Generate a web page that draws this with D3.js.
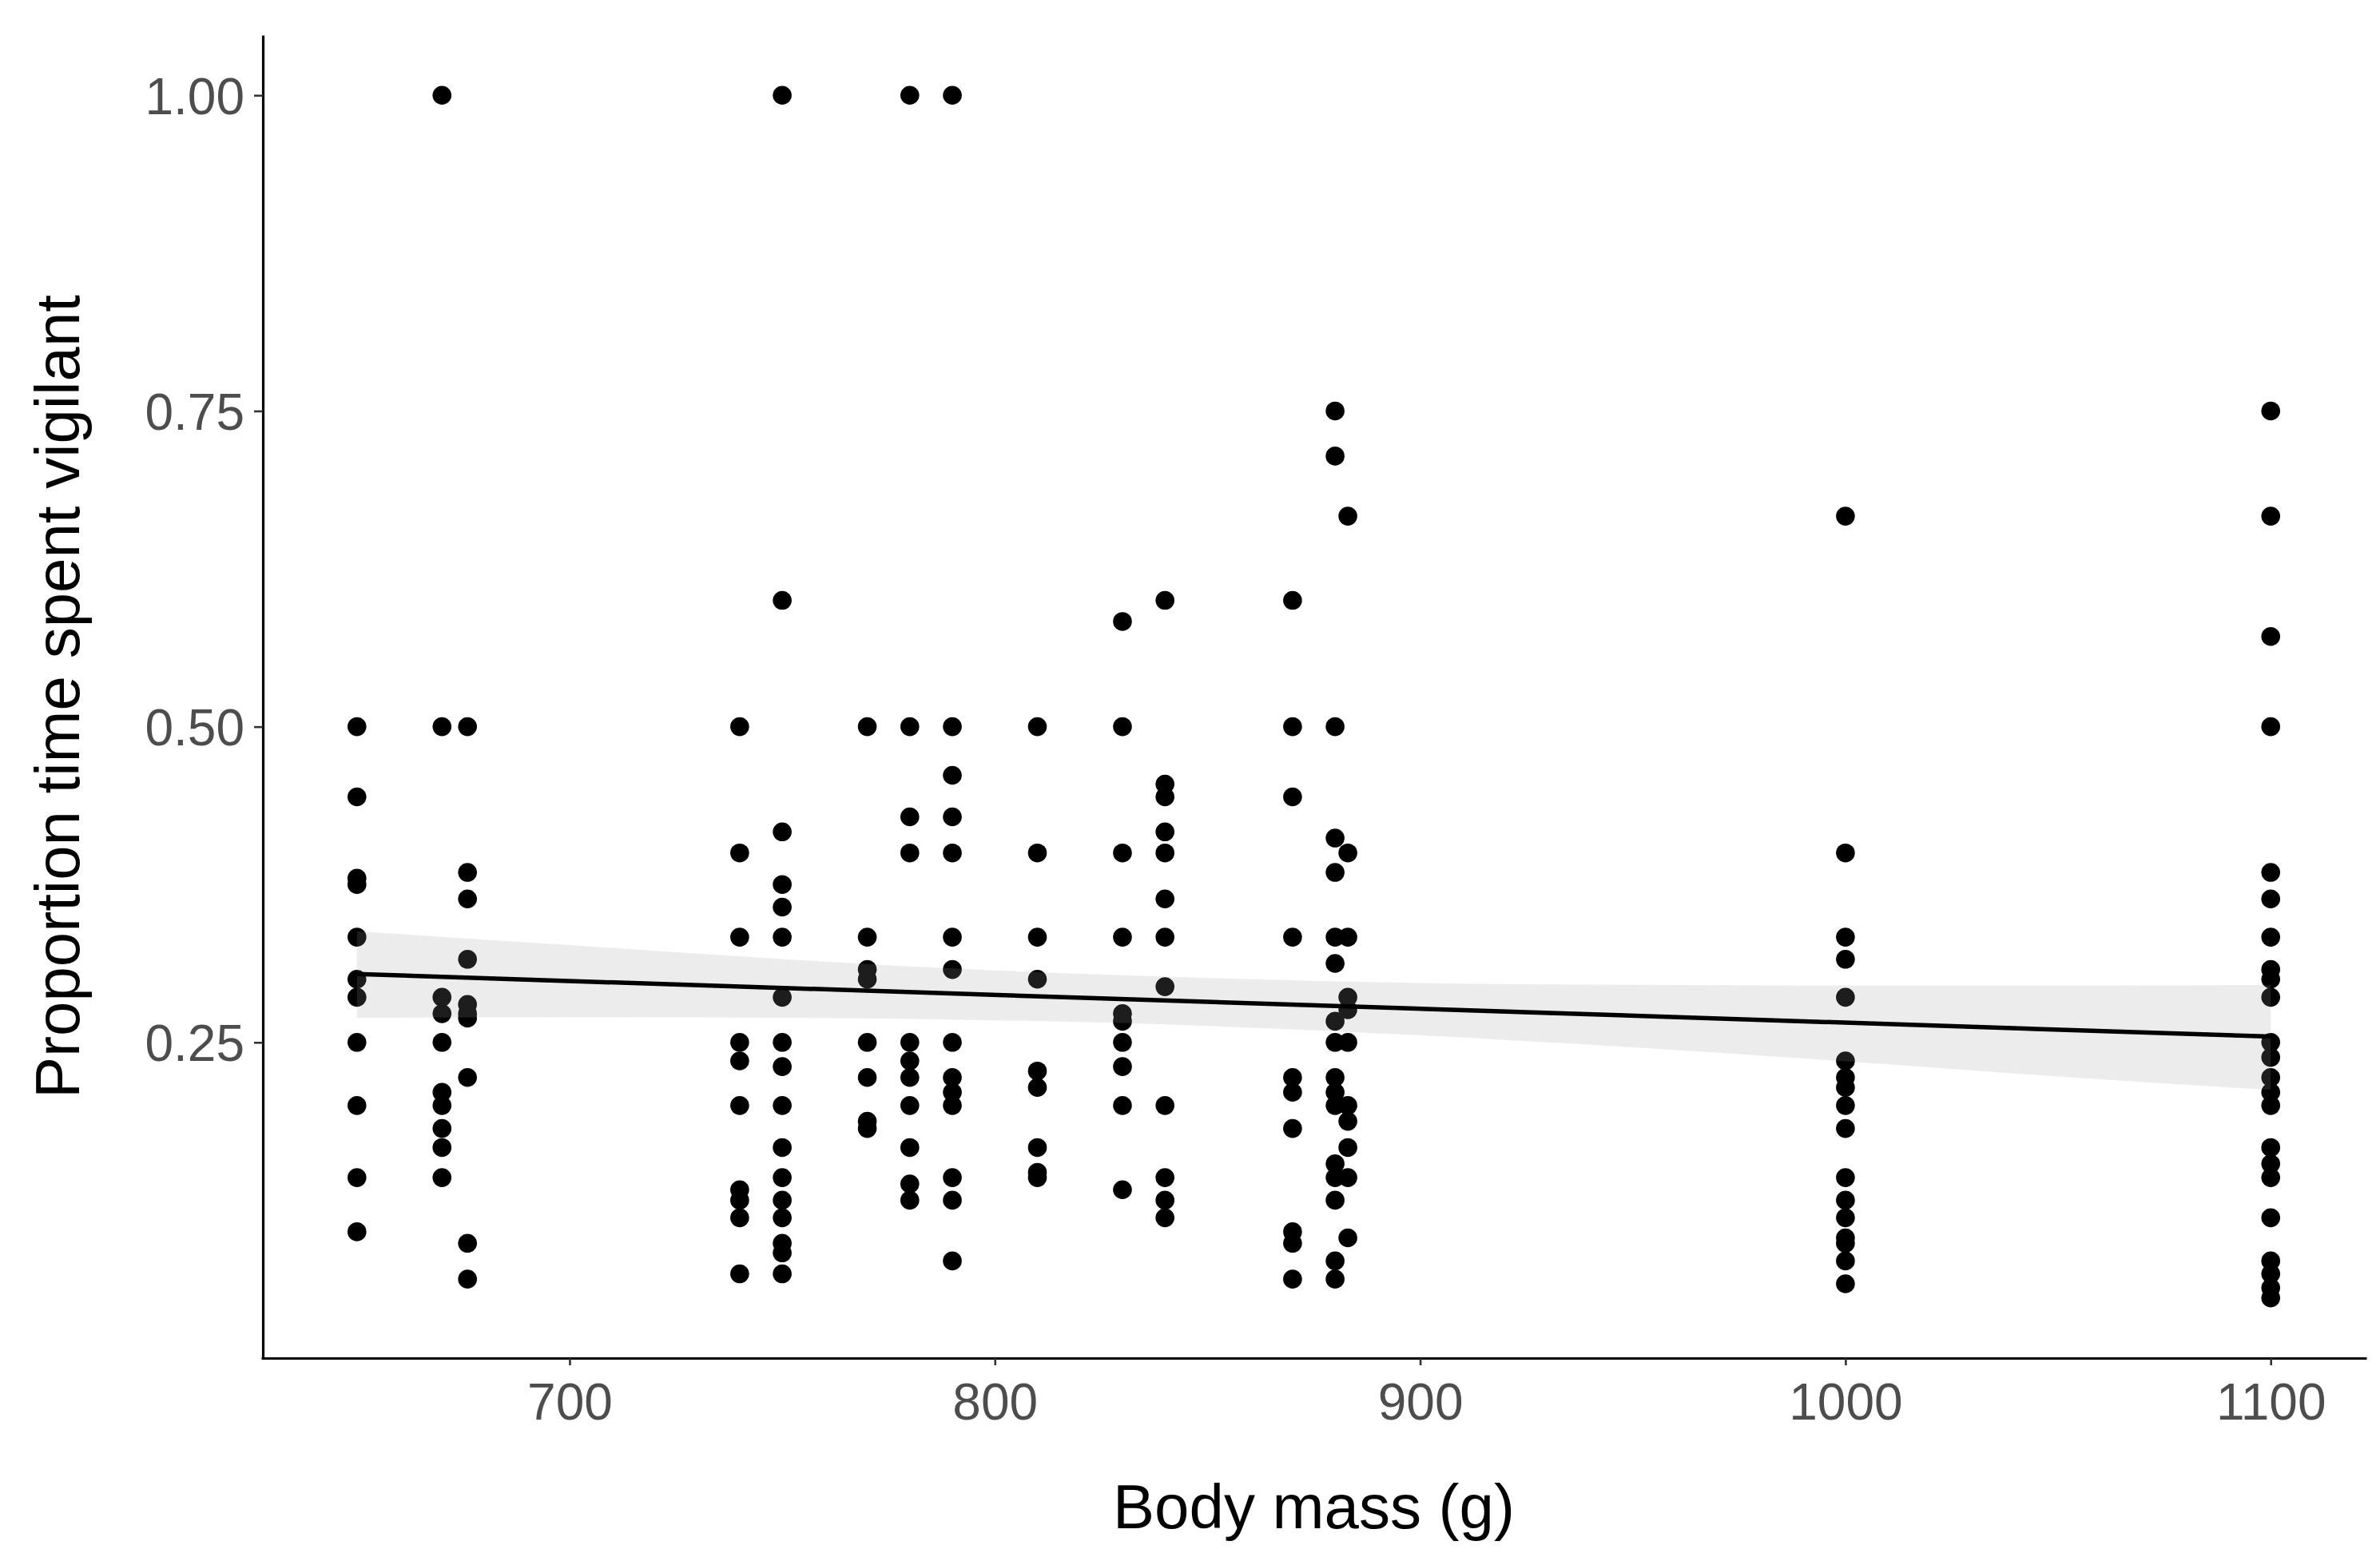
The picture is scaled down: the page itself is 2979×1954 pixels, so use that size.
<!DOCTYPE html>
<html>
<head>
<meta charset="utf-8">
<script src="https://cdn.jsdelivr.net/npm/d3@7"></script>
<style>
  html, body { margin: 0; padding: 0; background: #ffffff; }
  svg { display: block; }
</style>
</head>
<body>
<svg id="chart" width="2979" height="1954"></svg>
<script>
// ---- Data ----
const bodyMass = [650, 670, 676, 740, 750, 770, 780, 790, 810, 830, 840, 870, 880, 883, 1000, 1100];

const vig650  = [0.5, 0.4444, 0.38, 0.375, 0.3333, 0.3, 0.2857, 0.25, 0.2, 0.1429, 0.1];
const vig670  = [1.0, 0.5, 0.2857, 0.2727, 0.25, 0.2105, 0.2, 0.1818, 0.1667, 0.1429];
const vig676  = [0.5, 0.3846, 0.3636, 0.3158, 0.28, 0.2727, 0.2692, 0.2222, 0.0909, 0.0625];
const vig740  = [0.5, 0.4, 0.3333, 0.25, 0.2353, 0.2, 0.1333, 0.125, 0.1111, 0.0667];
const vig750  = [1.0, 0.6, 0.4167, 0.375, 0.3571, 0.3333, 0.2857, 0.25, 0.2308, 0.2, 0.1667, 0.1429, 0.125, 0.1111, 0.0909, 0.0833, 0.0667];
const vig770  = [0.5, 0.3333, 0.3077, 0.3, 0.25, 0.2222, 0.1875, 0.1818];
const vig780  = [1.0, 0.5, 0.4286, 0.4, 0.25, 0.2353, 0.2222, 0.2, 0.1667, 0.1379, 0.125];
const vig790  = [1.0, 0.5, 0.4615, 0.4286, 0.4, 0.3333, 0.3077, 0.25, 0.2222, 0.2105, 0.2, 0.1429, 0.125, 0.0769];
const vig810  = [0.5, 0.4, 0.3333, 0.3, 0.2273, 0.2143, 0.1667, 0.1471, 0.1429];
const vig830  = [0.5833, 0.5, 0.4, 0.3333, 0.2727, 0.2667, 0.25, 0.2308, 0.2, 0.1333];
const vig840  = [0.6, 0.4545, 0.4444, 0.4167, 0.4, 0.3636, 0.3333, 0.2941, 0.2, 0.1429, 0.125, 0.1111];
const vig870  = [0.6, 0.5, 0.4444, 0.3333, 0.2222, 0.2105, 0.1818, 0.1, 0.0909, 0.0625];
const vig880  = [0.75, 0.7143, 0.5, 0.4118, 0.3846, 0.3333, 0.3125, 0.2667, 0.25, 0.2222, 0.2105, 0.2, 0.1538, 0.1429, 0.125, 0.0769, 0.0625];
const vig883  = [0.6667, 0.4, 0.3333, 0.2857, 0.2759, 0.25, 0.2, 0.1875, 0.1667, 0.1429, 0.0952];
const vig1000 = [0.6667, 0.4, 0.3333, 0.3158, 0.2857, 0.2353, 0.2222, 0.2143, 0.2, 0.1818, 0.1429, 0.125, 0.1111, 0.0952, 0.0909, 0.0769, 0.0588];
const vig1100 = [0.75, 0.6667, 0.5714, 0.5, 0.3846, 0.3636, 0.3333, 0.3077, 0.3, 0.2857, 0.25, 0.2381, 0.2222, 0.2105, 0.2, 0.1667, 0.1538, 0.1429, 0.1111, 0.0769, 0.0667, 0.0556, 0.0476];

const vigilanceByMass = [vig650, vig670, vig676, vig740, vig750, vig770, vig780, vig790,
                         vig810, vig830, vig840, vig870, vig880, vig883, vig1000, vig1100];

// fitted regression line and its confidence band
const fitMass  = [650, 1100];
const fitValue = [0.3041, 0.2546];
const bandMass  = [650, 700, 750, 800, 850, 900, 950, 1000, 1050, 1100];
const bandUpper = [0.338, 0.327, 0.316, 0.307, 0.301, 0.297, 0.2955, 0.295, 0.295, 0.2953];
const bandLower = [0.2695, 0.270, 0.2695, 0.2675, 0.263, 0.2555, 0.246, 0.235, 0.223, 0.2124];

const xTicks = [700, 800, 900, 1000, 1100];
const yTicks = [0.25, 0.5, 0.75, 1.0];
const yTickLabels = ["0.25", "0.50", "0.75", "1.00"];

const xTitle = "Body mass (g)";
const yTitle = "Proportion time spent vigilant";

(function () {
  // ---- Build points ----
  const points = [];
  bodyMass.forEach((m, i) => vigilanceByMass[i].forEach(v => points.push({ m, v })));

  // ---- Scales (ggplot-like 5% expansion) ----
  const xExt = d3.extent(bodyMass);
  const yExt = d3.extent(points, d => d.v);
  const xPad = (xExt[1] - xExt[0]) * 0.05;
  const yPad = (yExt[1] - yExt[0]) * 0.05;

  const pLeft = 327, pRight = 2962, pTop = 44, pBottom = 1700;

  const x = d3.scaleLinear().domain([xExt[0] - xPad, xExt[1] + xPad]).range([pLeft, pRight]);
  const y = d3.scaleLinear().domain([yExt[0] - yPad, yExt[1] + yPad]).range([pBottom, pTop]);

  const svg = d3.select("#chart");
  svg.append("rect").attr("width", 2979).attr("height", 1954).attr("fill", "#ffffff");

  // points
  svg.append("g")
    .selectAll("circle")
    .data(points)
    .join("circle")
    .attr("cx", d => x(d.m))
    .attr("cy", d => y(d.v))
    .attr("r", 11.8)
    .attr("fill", "#000000");

  // confidence band
  const bandData = bandMass.map((m, i) => ({ m, lo: bandLower[i], hi: bandUpper[i] }));
  svg.append("path")
    .datum(bandData)
    .attr("d", d3.area()
      .x(d => x(d.m))
      .y0(d => y(d.lo))
      .y1(d => y(d.hi))
      .curve(d3.curveMonotoneX))
    .attr("fill", "#999999")
    .attr("fill-opacity", 0.19);

  // fitted line
  const fitData = fitMass.map((m, i) => ({ m, v: fitValue[i] }));
  svg.append("path")
    .datum(fitData)
    .attr("d", d3.line().x(d => x(d.m)).y(d => y(d.v)))
    .attr("fill", "none")
    .attr("stroke", "#000000")
    .attr("stroke-width", 5.5);

  // axes
  const fontFam = "'Liberation Sans', Arial, Helvetica, sans-serif";

  const xAxis = d3.axisBottom(x)
    .tickValues(xTicks)
    .tickFormat(d3.format("d"))
    .tickSizeInner(9)
    .tickSizeOuter(0)
    .tickPadding(23);

  const gx = svg.append("g")
    .attr("transform", `translate(0,${pBottom})`)
    .call(xAxis);

  const yAxis = d3.axisLeft(y)
    .tickValues(yTicks)
    .tickFormat((d, i) => yTickLabels[i])
    .tickSizeInner(11)
    .tickSizeOuter(0)
    .tickPadding(12);

  const gy = svg.append("g")
    .attr("transform", `translate(${pLeft + 2},0)`)
    .call(yAxis);

  [gx, gy].forEach(g => {
    g.select(".domain").attr("stroke", "#000000").attr("stroke-width", 3.2);
    g.selectAll(".tick line").attr("stroke", "#333333").attr("stroke-width", 2.6);
    g.selectAll(".tick text")
      .attr("fill", "#4D4D4D")
      .style("font-family", fontFam)
      .style("font-size", "64px");
  });
  gy.selectAll(".tick text").attr("dy", "0.36em");

  // axis titles
  svg.append("text")
    .attr("x", (pLeft + pRight) / 2)
    .attr("y", 1913)
    .attr("text-anchor", "middle")
    .style("font-family", fontFam)
    .style("font-size", "78px")
    .attr("fill", "#000000")
    .text(xTitle);

  svg.append("text")
    .attr("transform", `translate(99,${(pTop + pBottom) / 2}) rotate(-90)`)
    .attr("text-anchor", "middle")
    .style("font-family", fontFam)
    .style("font-size", "78px")
    .attr("fill", "#000000")
    .text(yTitle);
})();
</script>
</body>
</html>
